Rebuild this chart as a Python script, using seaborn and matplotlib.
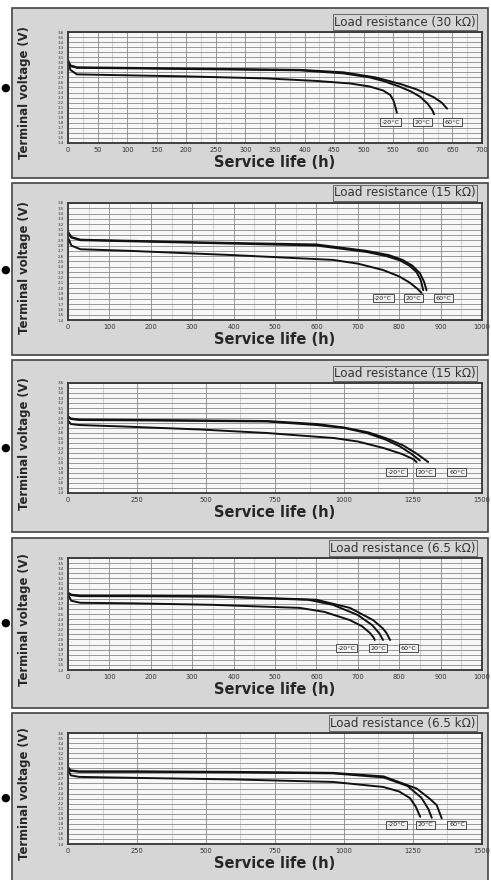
import numpy as np
import pandas as pd
import matplotlib
matplotlib.use("Agg")
import matplotlib.pyplot as plt
import seaborn as sns
from matplotlib.patches import Rectangle

# ---------------- data ----------------
temps = ["-20°C", "20°C", "60°C"]
titles = ["Load resistance (30 kΩ)", "Load resistance (15 kΩ)", "Load resistance (15 kΩ)",
          "Load resistance (6.5 kΩ)", "Load resistance (6.5 kΩ)"]
x_max = [700, 1000, 1500, 1000, 1500]
x_step = [50, 100, 250, 100, 250]
y_ticks = [round(1.4 + 0.1 * i, 1) for i in range(23)]

p1_h_a = [0, 4, 15, 60, 200, 336, 420, 477, 510, 533, 545, 550, 554, 556]
p1_v_a = [3.02, 2.85, 2.76, 2.75, 2.72, 2.68, 2.63, 2.58, 2.52, 2.44, 2.35, 2.25, 2.10, 2.00]
p1_h_b = [0, 4, 15, 100, 250, 392, 466, 510, 533, 560, 580, 595, 608, 616, 619]
p1_v_b = [3.02, 2.93, 2.89, 2.88, 2.86, 2.84, 2.78, 2.70, 2.63, 2.52, 2.42, 2.32, 2.18, 2.05, 1.97]
p1_h_c = [0, 4, 15, 100, 250, 392, 466, 520, 562, 590, 618, 632, 641]
p1_v_c = [3.04, 2.94, 2.90, 2.89, 2.87, 2.85, 2.80, 2.70, 2.57, 2.46, 2.31, 2.20, 2.08]

p2_h_a = [0, 8, 30, 150, 399, 640, 700, 761, 800, 826, 845, 854]
p2_v_a = [2.95, 2.80, 2.73, 2.70, 2.62, 2.53, 2.46, 2.34, 2.22, 2.10, 1.98, 1.91]
p2_h_b = [0, 8, 30, 150, 319, 600, 721, 770, 802, 825, 842, 852, 858]
p2_v_b = [3.04, 2.95, 2.90, 2.88, 2.85, 2.80, 2.68, 2.60, 2.52, 2.42, 2.30, 2.15, 1.96]
p2_h_c = [0, 8, 30, 150, 319, 600, 721, 775, 808, 832, 850, 860, 866]
p2_v_c = [3.06, 2.96, 2.91, 2.89, 2.86, 2.82, 2.70, 2.62, 2.53, 2.42, 2.28, 2.12, 1.96]

p3_h_a = [0, 10, 40, 200, 480, 720, 962, 1050, 1143, 1210, 1250, 1263]
p3_v_a = [2.85, 2.78, 2.76, 2.73, 2.67, 2.60, 2.50, 2.43, 2.30, 2.18, 2.08, 2.02]
p3_h_b = [0, 10, 40, 300, 720, 901, 1000, 1082, 1150, 1203, 1245, 1275]
p3_v_b = [2.93, 2.88, 2.86, 2.85, 2.83, 2.76, 2.70, 2.60, 2.47, 2.33, 2.18, 2.05]
p3_h_c = [0, 10, 40, 300, 720, 901, 1000, 1090, 1160, 1215, 1265, 1305]
p3_v_c = [2.93, 2.89, 2.87, 2.86, 2.84, 2.78, 2.71, 2.61, 2.48, 2.35, 2.18, 2.02]

p4_h_a = [0, 8, 30, 150, 350, 560, 620, 681, 710, 729, 738, 741]
p4_v_a = [2.88, 2.76, 2.72, 2.71, 2.68, 2.62, 2.54, 2.38, 2.26, 2.13, 2.04, 1.99]
p4_h_b = [0, 8, 30, 150, 351, 580, 640, 700, 735, 752, 761]
p4_v_b = [2.91, 2.87, 2.85, 2.85, 2.84, 2.78, 2.68, 2.48, 2.28, 2.12, 1.99]
p4_h_c = [0, 8, 30, 150, 351, 600, 681, 737, 760, 769, 778]
p4_v_c = [2.92, 2.88, 2.86, 2.86, 2.85, 2.78, 2.62, 2.38, 2.22, 2.13, 1.99]

p5_h_a = [0, 10, 40, 250, 600, 960, 1143, 1200, 1239, 1260, 1276]
p5_v_a = [2.88, 2.76, 2.73, 2.71, 2.68, 2.63, 2.53, 2.44, 2.31, 2.14, 1.94]
p5_h_b = [0, 10, 40, 250, 600, 960, 1143, 1230, 1280, 1305, 1318]
p5_v_b = [2.91, 2.85, 2.83, 2.83, 2.82, 2.80, 2.72, 2.55, 2.32, 2.10, 1.92]
p5_h_c = [0, 10, 40, 250, 600, 960, 1143, 1263, 1310, 1336, 1354]
p5_v_c = [2.92, 2.86, 2.84, 2.84, 2.83, 2.81, 2.74, 2.50, 2.30, 2.17, 1.91]

box_h = [[545, 600, 650], [761, 834, 906], [1191, 1294, 1409], [673, 749, 822], [1191, 1294, 1409]]
box_v = [1.81, 1.81, 1.82, 1.83, 1.78]

curves = [
    [(p1_h_a, p1_v_a), (p1_h_b, p1_v_b), (p1_h_c, p1_v_c)],
    [(p2_h_a, p2_v_a), (p2_h_b, p2_v_b), (p2_h_c, p2_v_c)],
    [(p3_h_a, p3_v_a), (p3_h_b, p3_v_b), (p3_h_c, p3_v_c)],
    [(p4_h_a, p4_v_a), (p4_h_b, p4_v_b), (p4_h_c, p4_v_c)],
    [(p5_h_a, p5_v_a), (p5_h_b, p5_v_b), (p5_h_c, p5_v_c)],
]

# ---------------- layout (pixels) ----------------
W, H = 491, 880
ax_px = [(32, 143), (203, 320), (383, 493), (558, 670), (733, 844)]
frame_px = [(8, 178), (183, 355), (360, 532), (538, 708), (713, 884)]
dot_px = [88, 270, 448, 623, 798]

sns.set_style("white")
plt.rcParams['font.family'] = ['DejaVu Sans']
fig = plt.figure(figsize=(W / 100, H / 100), dpi=100)
fig.patch.set_facecolor("white")

for i in range(5):
    ft, fb = frame_px[i]
    fig.patches.append(Rectangle((12 / W, 1 - fb / H), (488 - 12) / W, (fb - ft) / H,
                                 transform=fig.transFigure, facecolor="#d6d6d6",
                                 edgecolor="#444444", linewidth=1.2, zorder=-10))
    fig.text(5 / W, 1 - dot_px[i] / H, "●", fontsize=8, ha="center", va="center", color="black")

    t, b = ax_px[i]
    ax = fig.add_axes([68 / W, 1 - b / H, 414 / W, (b - t) / H])
    ax.set_zorder(5)
    ax.set_facecolor("#f7f7f7")
    rows = []
    for k, (hh, vv) in enumerate(curves[i]):
        for h_, v_ in zip(hh, vv):
            rows.append({"h": h_, "v": v_, "temp": temps[k]})
    df = pd.DataFrame(rows)
    sns.lineplot(data=df, x="h", y="v", units="temp", estimator=None, sort=False,
                 color="#111111", linewidth=1.4, ax=ax, legend=False)

    xt = np.arange(0, x_max[i] + 1, x_step[i])
    ax.set_xlim(0, x_max[i])
    ax.set_ylim(1.4, 3.6)
    ax.set_xticks(xt)
    ax.set_xticklabels([str(v) for v in xt], fontsize=4.8)
    ax.set_xticks(np.arange(0, x_max[i] + 1, x_step[i] / 2), minor=True)
    ax.set_yticks(y_ticks)
    ax.set_yticklabels([f"{v:.1f}" for v in y_ticks], fontsize=2.9)
    ax.tick_params(axis="both", which="both", length=0, pad=3, colors="#333333")
    ax.grid(which="major", color="#8a8a8a", linewidth=0.6)
    ax.grid(which="minor", axis="x", color="#b5b5b5", linewidth=0.4)
    ax.set_axisbelow(True)
    for s in ax.spines.values():
        s.set_visible(True)
        s.set_color("#333333")
        s.set_linewidth(1.3)
    ax.set_xlabel("Service life (h)", fontsize=10.5, fontweight="bold", labelpad=1)
    ax.set_ylabel("Terminal voltage (V)", fontsize=8.4, fontweight="bold")
    ax.yaxis.set_label_coords(-0.089, 0.45)
    ax.text(0.985, 1.03, titles[i], transform=ax.transAxes, ha="right", va="bottom",
            fontsize=8.6, color="#333333",
            bbox=dict(boxstyle="square,pad=0.1", facecolor="none", edgecolor="#555555", linewidth=0.6))
    for k in range(3):
        ax.text(box_h[i][k], box_v[i], temps[k], ha="center", va="center", fontsize=4.6,
                color="#222222",
                bbox=dict(boxstyle="square,pad=0.25", facecolor="#f0f0f0", edgecolor="#333333", linewidth=0.6))

fig.savefig("out.png", dpi=100)
